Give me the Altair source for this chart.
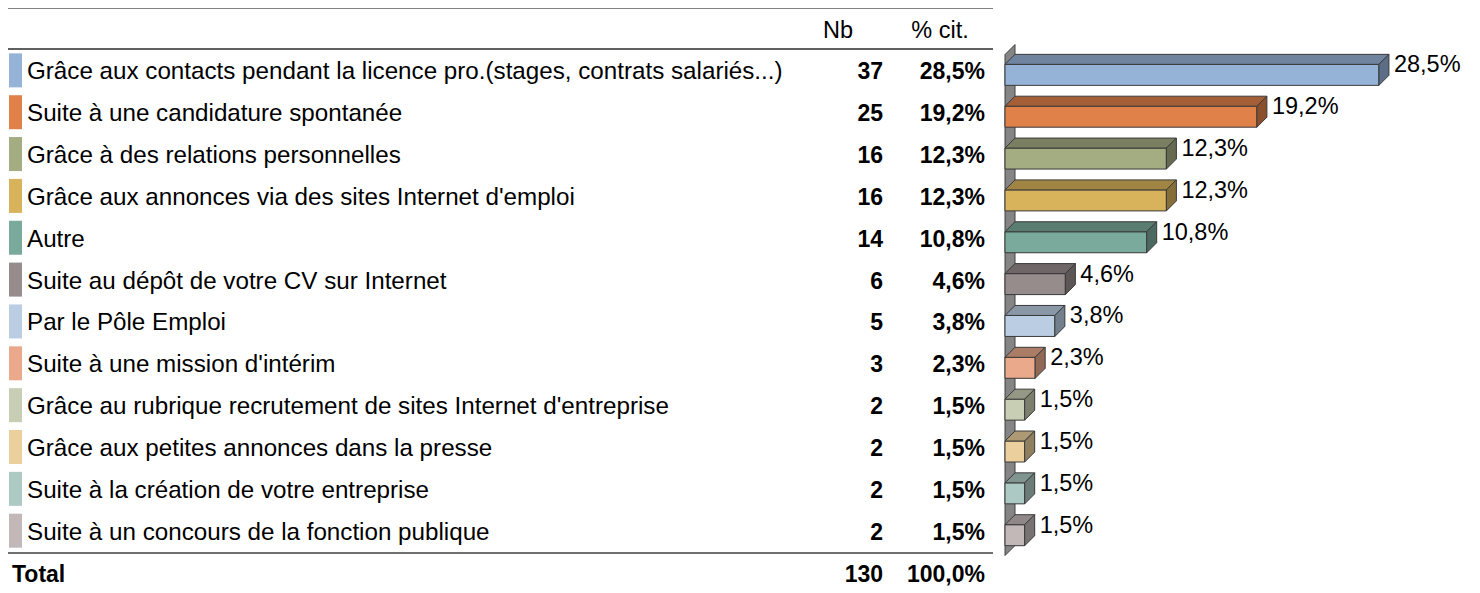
import altair as alt
import pandas as pd

# ---------------- data ----------------
labels = [
    "Grâce aux contacts pendant la licence pro.(stages, contrats salariés...)",
    "Suite à une candidature spontanée",
    "Grâce à des relations personnelles",
    "Grâce aux annonces via des sites Internet d'emploi",
    "Autre",
    "Suite au dépôt de votre CV sur Internet",
    "Par le Pôle Emploi",
    "Suite à une mission d'intérim",
    "Grâce au rubrique recrutement de sites Internet d'entreprise",
    "Grâce aux petites annonces dans la presse",
    "Suite à la création de votre entreprise",
    "Suite à un concours de la fonction publique",
]
counts = [37, 25, 16, 16, 14, 6, 5, 3, 2, 2, 2, 2]
percents = [28.5, 19.2, 12.3, 12.3, 10.8, 4.6, 3.8, 2.3, 1.5, 1.5, 1.5, 1.5]
total_label = "Total"
total_count = 130
total_percent = 100.0
header_nb = "Nb"
header_pct = "% cit."

# ---------------- styles ----------------
front_colors = [
    "#95B3D7", "#E0814A", "#A4AC82", "#D9B35C", "#7AAA9B", "#968C8C",
    "#BACDE3", "#E9A98A", "#C8CEB3", "#EBCF9C", "#ADC9C3", "#C3B8B8",
]


def shade(hexc, f):
    r, g, b = (int(hexc[i:i + 2], 16) for i in (1, 3, 5))
    return "#{:02X}{:02X}{:02X}".format(int(r * f), int(g * f), int(b * f))


top_colors = [shade(c, 0.74) for c in front_colors]
side_colors = [shade(c, 0.62) for c in front_colors]


def fmt(p):
    return f"{p:.1f}".replace(".", ",") + "%"


FONT = "Liberation Sans"
FS = 23
FS_LABEL = 24.2
FS_BAR = 23.5
W, H = 1464, 585
ROW0_PX, ROW_PX = 22.5, 41.85
X0_PX, PX_PER_PCT = 997, 13.12
X_MAX = 30
DEPTH = 10
DX = DEPTH / PX_PER_PCT
DY = DEPTH / ROW_PX
FRONT_TOP = 8 / ROW_PX
FRONT_BOT = 13 / ROW_PX
LINE_RIGHT = 985

n = len(labels)
rows = list(range(1, n + 1))
df = pd.DataFrame({
    "row": rows,
    "label": labels,
    "nb": counts,
    "pct": percents,
    "pct_txt": [fmt(p) for p in percents],
})
df["y_top"] = df["row"] - FRONT_TOP
df["y_bot"] = df["row"] + FRONT_BOT
df["sw_top"] = df["row"] - 19 / ROW_PX
df["sw_bot"] = df["row"] + 15 / ROW_PX
df["zero"] = 0.0

# polygons for the 3D faces (two vertices per face edge)
top_rows, side_rows = [], []
for r in df.itertuples():
    top_rows.append({"label": r.label, "y": r.y_top, "x": 0.0, "x2": r.pct})
    top_rows.append({"label": r.label, "y": r.y_top - DY, "x": DX, "x2": r.pct + DX})
    side_rows.append({"label": r.label, "x": r.pct, "y": r.y_top, "y2": r.y_bot})
    side_rows.append({"label": r.label, "x": r.pct + DX, "y": r.y_top - DY, "y2": r.y_bot - DY})
top_df = pd.DataFrame(top_rows)
side_df = pd.DataFrame(side_rows)

wall_top = 1 - FRONT_TOP - DY + 0.005
wall_bot = n + 0.545
wall_df = pd.DataFrame({
    "x": [0.0, DX],
    "y": [wall_top, wall_top - DY],
    "y2": [wall_bot, wall_bot - DY],
})

head_df = pd.DataFrame({"row": [0], "nb": [header_nb], "pct": [header_pct]})
tot_df = pd.DataFrame({"row": [n + 1], "label": [total_label],
                       "nb": [str(total_count)], "pct": [fmt(total_percent)]})

yscale = alt.Scale(domain=[0, n + 1], range=[ROW0_PX, ROW0_PX + (n + 1) * ROW_PX])
xscale = alt.Scale(domain=[0, X_MAX], range=[X0_PX, X0_PX + X_MAX * PX_PER_PCT])

Y = lambda f: alt.Y(f"{f}:Q", scale=yscale, axis=None)
X = lambda f: alt.X(f"{f}:Q", scale=xscale, axis=None)

# ---------------- table ----------------
rule_top = alt.Chart(head_df).mark_rule(color="#808080", strokeWidth=2).encode(
    x=alt.value(0), x2=alt.value(LINE_RIGHT), y=alt.value(0))
rule_head = alt.Chart(head_df).mark_rule(color="#606060", strokeWidth=2).encode(
    x=alt.value(0), x2=alt.value(LINE_RIGHT), y=alt.value(41))
rule_sep = alt.Chart(head_df).mark_rule(color="#707070", strokeWidth=2).encode(
    x=alt.value(0), x2=alt.value(LINE_RIGHT), y=alt.value(545))

swatch = alt.Chart(df).mark_rect().encode(
    x=alt.value(1), x2=alt.value(14),
    y=Y("sw_top"), y2=alt.Y2("sw_bot"),
    color=alt.Color("label:N", scale=alt.Scale(domain=labels, range=front_colors), legend=None),
)

lab_txt = alt.Chart(df).mark_text(align="left", baseline="middle", font=FONT, fontSize=FS_LABEL,
                                  color="#000").encode(
    x=alt.value(19), y=Y("row"), text="label:N")
nb_txt = alt.Chart(df).mark_text(align="right", baseline="middle", font=FONT, fontSize=FS,
                                 fontWeight="bold", color="#000").encode(
    x=alt.value(875), y=Y("row"), text="nb:Q")
pct_txt = alt.Chart(df).mark_text(align="right", baseline="middle", font=FONT, fontSize=FS,
                                  fontWeight="bold", color="#000").encode(
    x=alt.value(977), y=Y("row"), text="pct_txt:N")

head_nb = alt.Chart(head_df).mark_text(align="center", baseline="middle", font=FONT,
                                       fontSize=FS_BAR, color="#000").encode(
    x=alt.value(830), y=Y("row"), text="nb:N")
head_pct = alt.Chart(head_df).mark_text(align="center", baseline="middle", font=FONT,
                                        fontSize=FS_BAR, color="#000").encode(
    x=alt.value(932), y=Y("row"), text="pct:N")

tot_lab = alt.Chart(tot_df).mark_text(align="left", baseline="middle", font=FONT, fontSize=FS,
                                      fontWeight="bold", color="#000").encode(
    x=alt.value(4), y=Y("row"), text="label:N")
tot_nb = alt.Chart(tot_df).mark_text(align="right", baseline="middle", font=FONT, fontSize=FS,
                                     fontWeight="bold", color="#000").encode(
    x=alt.value(875), y=Y("row"), text="nb:N")
tot_pct = alt.Chart(tot_df).mark_text(align="right", baseline="middle", font=FONT, fontSize=FS,
                                      fontWeight="bold", color="#000").encode(
    x=alt.value(977), y=Y("row"), text="pct:N")

# ---------------- 3D bars ----------------
STROKE = "#3A3A3A"
wall = alt.Chart(wall_df).mark_area(orient="vertical", color="#858585", stroke="#404040",
                                    strokeWidth=1).encode(
    x=X("x"), y=Y("y"), y2=alt.Y2("y2"))

front = alt.Chart(df).mark_rect(stroke=STROKE, strokeWidth=1).encode(
    x=X("zero"), x2=alt.X2("pct"),
    y=Y("y_top"), y2=alt.Y2("y_bot"),
    color=alt.Color("label:N", scale=alt.Scale(domain=labels, range=front_colors), legend=None),
)
top = alt.Chart(top_df).mark_area(orient="horizontal", stroke=STROKE, strokeWidth=1).encode(
    y=Y("y"), x=X("x"), x2=alt.X2("x2"),
    detail="label:N",
    color=alt.Color("label:N", scale=alt.Scale(domain=labels, range=top_colors), legend=None),
)
side = alt.Chart(side_df).mark_area(orient="vertical", stroke=STROKE, strokeWidth=1).encode(
    x=X("x"), y=Y("y"), y2=alt.Y2("y2"),
    detail="label:N",
    color=alt.Color("label:N", scale=alt.Scale(domain=labels, range=side_colors), legend=None),
)
bar_lab = alt.Chart(df).mark_text(align="left", baseline="middle", font=FONT, fontSize=FS_BAR,
                                  color="#000", dx=DEPTH + 5, dy=-7).encode(
    x=X("pct"), y=Y("row"), text="pct_txt:N")

chart = alt.layer(
    rule_top, rule_head, rule_sep, swatch, lab_txt, nb_txt, pct_txt,
    head_nb, head_pct, tot_lab, tot_nb, tot_pct,
    wall, front, top, side, bar_lab,
).resolve_scale(color="independent").properties(
    width=W, height=H, autosize=alt.AutoSizeParams(type="none"), padding=0,
).configure_view(stroke=None)

chart.save("out.html", embed_options={"renderer": "svg", "actions": False})
